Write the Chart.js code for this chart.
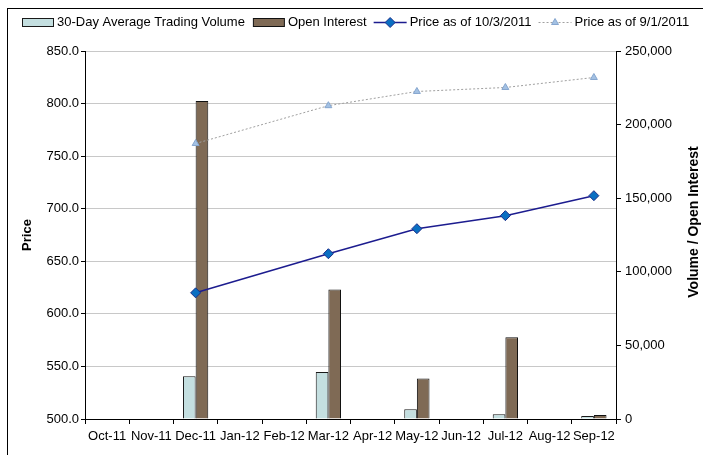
<!DOCTYPE html>
<html lang="en">
<head>
    <meta charset="UTF-8">
    <title>Price, Volume and Open Interest</title>
    <script src="https://cdn.jsdelivr.net/npm/chart.js"></script>
    <style>
        body { margin: 0; background: #fff; }
        #wrap { width: 703px; height: 455px; position: relative; }
    </style>
</head>
<body>
    <div id="wrap"><canvas id="priceChart"></canvas></div>

    <script>
        // Data
        const months = ['Oct-11', 'Nov-11', 'Dec-11', 'Jan-12', 'Feb-12', 'Mar-12',
                        'Apr-12', 'May-12', 'Jun-12', 'Jul-12', 'Aug-12', 'Sep-12'];
        const avgVolume    = [null, null, 29000, null, null, 32000, null, 6600, null, 3200, null, 2000];
        const openInterest = [null, null, 216000, null, null, 88000, null, 27500, null, 55500, null, 2700];
        const priceOct3    = [null, null, 620.0, null, null, 657.2, null, 681.0, null, 693.4, null, 712.4];
        const priceSep1    = [null, null, 762.0, null, null, 798.0, null, 811.5, null, 815.3, null, 824.8];
        const priceTicks   = { min: 500, max: 850, step: 50 };
        const volumeTicks  = { min: 0, max: 250000, step: 50000 };
        const volumeTitle  = 'Volume / Open Interest';

        const FONT = '"Liberation Sans", Arial, sans-serif';
        const FULL_W = 703, FULL_H = 455;
        const PLOT = { left: 85, right: 616, top: 51, bottom: 419 };

        // frame, right axis title (reads bottom-to-top) and a legend with line samples
        const framePlugin = {
            id: 'frame',
            beforeDraw(chart) {
                const ctx = chart.ctx;
                ctx.save();
                ctx.fillStyle = '#fff';
                ctx.fillRect(0, 0, chart.width, chart.height);
                ctx.restore();
            },
            afterDraw(chart) {
                const ctx = chart.ctx;
                ctx.save();
                ctx.strokeStyle = '#000';
                ctx.lineWidth = 1;
                ctx.strokeRect(7.5, 8.5, 900, 900);

                // right axis title
                ctx.save();
                ctx.translate(694, 222);
                ctx.rotate(-Math.PI / 2);
                ctx.font = 'bold 14px ' + FONT;
                ctx.fillStyle = '#000';
                ctx.textAlign = 'center';
                ctx.textBaseline = 'middle';
                ctx.fillText(volumeTitle, 0, 0);
                ctx.restore();

                ctx.font = '13px ' + FONT;
                ctx.textBaseline = 'middle';
                const sampleW = 33, textGap = 3, itemGap = 7;
                const items = chart.data.datasets.map(ds => ({
                    ds, w: sampleW + textGap + ctx.measureText(ds.label).width
                }));
                const total = items.reduce((s, i) => s + i.w, 0) + itemGap * (items.length - 1);
                let x = Math.round(355 - total / 2);
                const y = 22.5;
                items.forEach(({ ds, w }) => {
                    if (ds.type === 'bar') {
                        ctx.fillStyle = ds.backgroundColor;
                        ctx.fillRect(x + 1.5, y - 4, 31, 8);
                        ctx.strokeStyle = ds.borderColor;
                        ctx.lineWidth = 1;
                        ctx.strokeRect(x + 1.5, y - 4, 31, 8);
                    } else {
                        ctx.strokeStyle = ds.borderColor;
                        ctx.lineWidth = ds.borderWidth;
                        ctx.setLineDash(ds.borderDash || []);
                        ctx.beginPath();
                        ctx.moveTo(x, y);
                        ctx.lineTo(x + sampleW, y);
                        ctx.stroke();
                        ctx.setLineDash([]);
                        ctx.fillStyle = ds.pointBackgroundColor;
                        ctx.strokeStyle = ds.pointBorderColor;
                        ctx.lineWidth = 1;
                        Chart.helpers.drawPoint(ctx, {
                            pointStyle: ds.pointStyle, radius: ds.pointRadius,
                            rotation: 0, borderWidth: 1
                        }, x + sampleW / 2, y);
                    }
                    ctx.fillStyle = '#000';
                    ctx.textAlign = 'left';
                    ctx.fillText(ds.label, x + sampleW + textGap, y);
                    x += w + itemGap;
                });
                ctx.restore();
            }
        };

        let priceChart;

        function initializeChart() {
            const ctx = document.getElementById('priceChart').getContext('2d');
            priceChart = new Chart(ctx, {
                data: {
                    labels: months,
                    datasets: [{
                        type: 'bar',
                        label: '30-Day Average Trading Volume',
                        data: avgVolume,
                        yAxisID: 'yVol',
                        backgroundColor: '#c4dfe0',
                        borderColor: '#1a1a1a',
                        borderWidth: 1,
                        categoryPercentage: 0.5714,
                        barPercentage: 1.0,
                        order: 2
                    }, {
                        type: 'bar',
                        label: 'Open Interest',
                        data: openInterest,
                        yAxisID: 'yVol',
                        backgroundColor: '#7f6a55',
                        borderColor: '#111',
                        borderWidth: 1,
                        categoryPercentage: 0.5714,
                        barPercentage: 1.0,
                        order: 2
                    }, {
                        type: 'line',
                        label: 'Price as of 10/3/2011',
                        data: priceOct3,
                        yAxisID: 'yPrice',
                        borderColor: '#1c1c8f',
                        borderWidth: 1.5,
                        pointStyle: 'rectRot',
                        pointRadius: 5,
                        pointBackgroundColor: '#0a6fc2',
                        pointBorderColor: '#1c2f8a',
                        pointBorderWidth: 1,
                        spanGaps: true,
                        order: 0
                    }, {
                        type: 'line',
                        label: 'Price as of 9/1/2011',
                        data: priceSep1,
                        yAxisID: 'yPrice',
                        borderColor: '#a0a0a0',
                        borderWidth: 1,
                        borderDash: [2, 2],
                        pointStyle: 'triangle',
                        pointRadius: 4,
                        pointBackgroundColor: '#a3c1e3',
                        pointBorderColor: '#86a6cf',
                        pointBorderWidth: 1,
                        spanGaps: true,
                        order: 1
                    }]
                },
                options: {
                    responsive: true,
                    maintainAspectRatio: false,
                    animation: false,
                    layout: { padding: { left: 0, right: 0, top: PLOT.top, bottom: 0 } },
                    plugins: {
                        legend: { display: false },
                        tooltip: { enabled: false }
                    },
                    scales: {
                        x: {
                            type: 'category',
                            offset: true,
                            grid: {
                                display: true, offset: true, drawOnChartArea: false,
                                tickLength: 5, tickColor: '#000'
                            },
                            border: { color: '#000' },
                            ticks: {
                                color: '#000', font: { family: FONT, size: 13 },
                                maxRotation: 0, autoSkip: false, padding: 5
                            },
                            afterFit: s => { s.height = FULL_H - PLOT.bottom; }
                        },
                        yPrice: {
                            position: 'left',
                            min: priceTicks.min, max: priceTicks.max,
                            grid: { color: '#c8c8c8', tickColor: '#000', tickLength: 4 },
                            border: { color: '#000' },
                            ticks: {
                                stepSize: priceTicks.step, color: '#000', padding: 2,
                                font: { family: FONT, size: 13 },
                                callback: v => Number(v).toFixed(1)
                            },
                            title: {
                                display: true, text: 'Price', color: '#000',
                                font: { family: FONT, size: 13, weight: 'bold' },
                                padding: { top: 20, bottom: 0 }
                            },
                            afterFit: s => { s.width = PLOT.left; }
                        },
                        yVol: {
                            position: 'right',
                            min: volumeTicks.min, max: volumeTicks.max,
                            grid: { drawOnChartArea: false, tickColor: '#000', tickLength: 5 },
                            border: { color: '#000' },
                            ticks: {
                                stepSize: volumeTicks.step, color: '#000', padding: 4,
                                font: { family: FONT, size: 13 },
                                callback: v => Number(v).toLocaleString('en-US')
                            },
                            afterFit: s => { s.width = FULL_W - PLOT.right; }
                        }
                    }
                },
                plugins: [framePlugin]
            });
        }

        document.addEventListener('DOMContentLoaded', initializeChart);
    </script>
</body>
</html>
